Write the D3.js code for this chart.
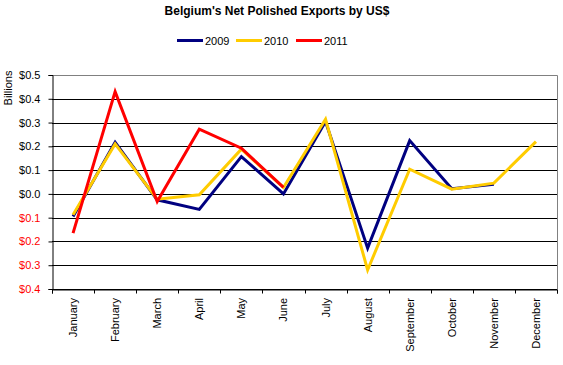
<!DOCTYPE html>
<html><head><meta charset="utf-8">
<script src="https://cdn.jsdelivr.net/npm/d3@7"></script>
<style>body{margin:0;background:#fff}svg{display:block}text{font-family:"Liberation Sans",Arial,sans-serif}</style>
</head><body><svg id="c" width="563" height="365"></svg>
<script>
const months = ["January","February","March","April","May","June","July","August","September","October","November","December"];
const yTicks = [-0.4,-0.3,-0.2,-0.1,0,0.1,0.2,0.3,0.4,0.5];
const s2009 = [-0.095,0.217,-0.025,-0.065,0.157,0.0,0.304,-0.228,0.224,0.022,0.040,null];
const s2010 = [-0.088,0.210,-0.022,-0.004,0.188,0.027,0.314,-0.320,0.104,0.020,0.045,0.220];
const s2011 = [-0.165,0.430,-0.032,0.272,0.192,0.027,null,null,null,null,null,null];
const seriesNames = ["2009","2010","2011"];
const colors = ["#000080","#FFCC00","#FF0000"];
const series = [s2009,s2010,s2011];

const svg = d3.select("#c");
const L=52, R=557, T=75, B=289;
const x = d3.scaleBand().domain(months).range([L,R]);
const y = d3.scaleLinear().domain([-0.4,0.5]).range([B,T]);

svg.append("text").attr("x",277).attr("y",15).attr("text-anchor","middle")
  .attr("font-weight","bold").attr("font-size",12).text("Belgium's Net Polished Exports by US$");

// gridlines
svg.append("g").selectAll("line").data(yTicks.filter(d=>d<0.5)).join("line")
  .attr("x1",L).attr("x2",R).attr("y1",d=>Math.round(y(d))+0.5).attr("y2",d=>Math.round(y(d))+0.5)
  .attr("stroke","#000").attr("stroke-width",1);
// plot border top/right
svg.append("path").attr("d",`M${L},${T+0.5}H${R+0.5}V${B}`).attr("fill","none").attr("stroke","#808080");

// y axis
const fmt = d=>"$"+Math.abs(d).toFixed(1);
const ya = svg.append("g").attr("transform",`translate(${L+0.5},0)`)
  .call(d3.axisLeft(y).tickValues(yTicks).tickFormat(fmt).tickSize(4).tickPadding(8));
ya.select(".domain").attr("stroke","#000");
ya.selectAll("text").attr("font-size",11).attr("font-family","Liberation Sans, Arial, sans-serif")
  .attr("fill",d=>d<0?"#FF0000":"#000");

// x axis
const xa = svg.append("g").attr("transform",`translate(0,${B+0.5})`)
  .call(d3.axisBottom(x).tickSize(4).tickFormat(""));
xa.select(".domain").attr("stroke","#000");
xa.selectAll(".tick").remove();
const edges = d3.range(13).map(i=>L+i*x.bandwidth());
xa.selectAll("line.e").data(edges).join("line").attr("class","e")
  .attr("x1",d=>Math.round(d)+0.5).attr("x2",d=>Math.round(d)+0.5).attr("y1",0).attr("y2",4).attr("stroke","#000");
svg.append("g").selectAll("text").data(months).join("text")
  .attr("transform",d=>`translate(${x(d)+x.bandwidth()/2+4},${B+9}) rotate(-90)`)
  .attr("text-anchor","end").attr("font-size",11).text(d=>d);

svg.append("text").attr("transform","translate(12,88) rotate(-90)").attr("text-anchor","middle")
  .attr("font-size",11).text("Billions");

// lines
const line = d3.line().defined(d=>d[1]!=null).x(d=>x(d[0])+x.bandwidth()/2).y(d=>y(d[1]));
series.forEach((s,i)=>{
  svg.append("path").datum(months.map((m,j)=>[m,s[j]]).filter(d=>d[1]!=null))
    .attr("d",line).attr("fill","none").attr("stroke",colors[i]).attr("stroke-width",3)
    .attr("stroke-linejoin","miter");
});

// legend
const lx=[177,236,296];
seriesNames.forEach((n,i)=>{
  svg.append("line").attr("x1",lx[i]).attr("x2",lx[i]+26).attr("y1",40.5).attr("y2",40.5)
    .attr("stroke",colors[i]).attr("stroke-width",3);
  svg.append("text").attr("x",lx[i]+28).attr("y",45).attr("font-size",11).text(n);
});
</script></body></html>
